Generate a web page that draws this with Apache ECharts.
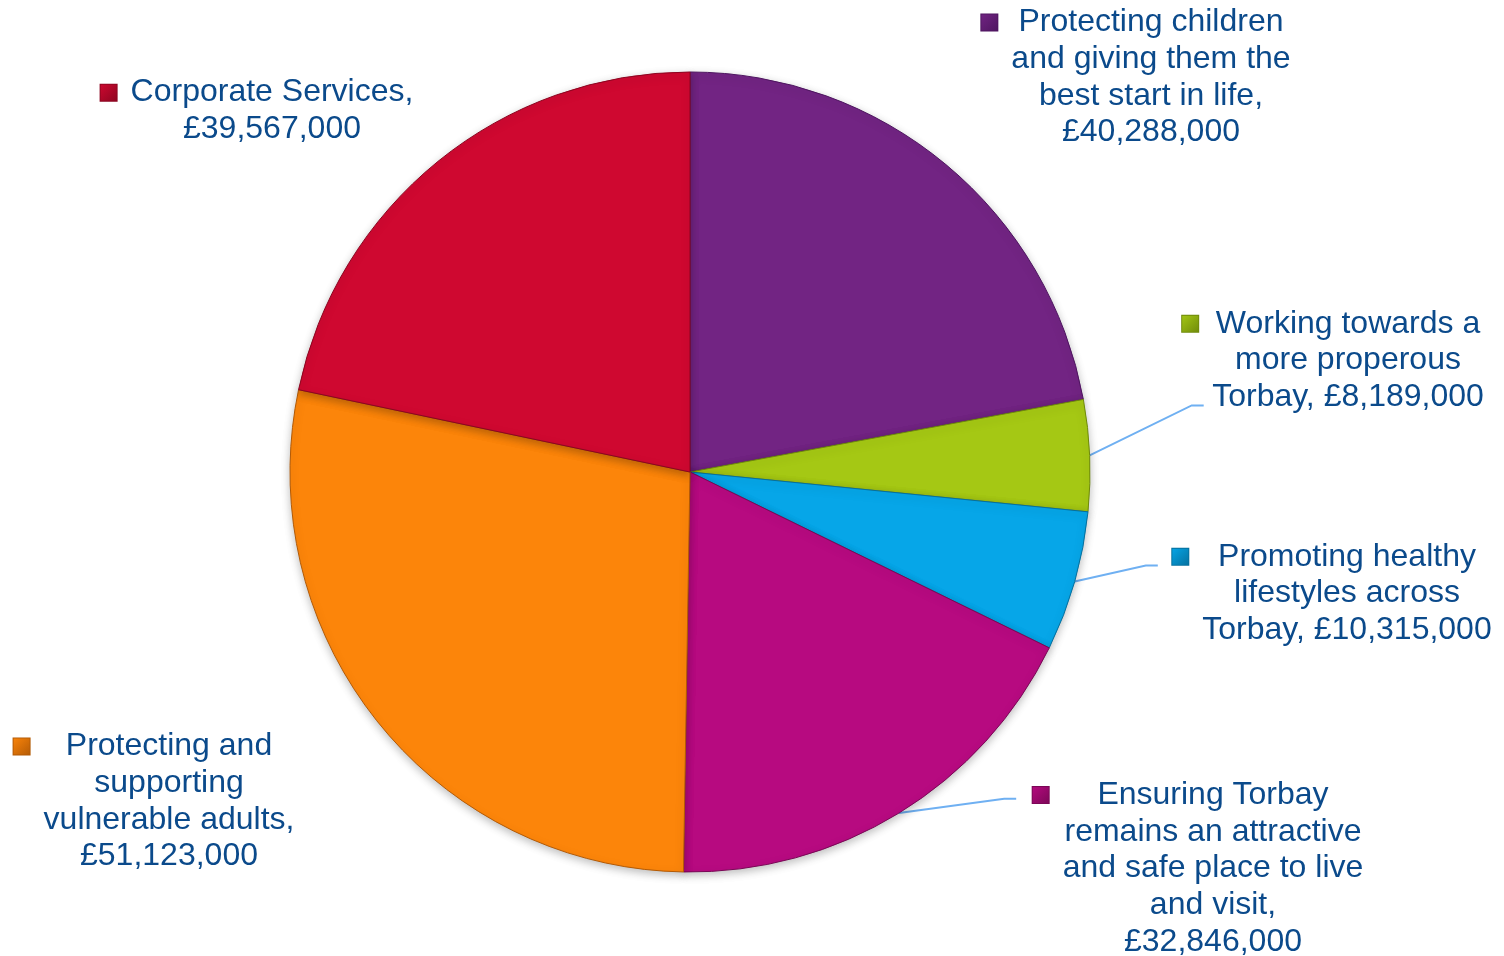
<!DOCTYPE html>
<html>
<head>
<meta charset="utf-8">
<script src="https://cdn.jsdelivr.net/npm/echarts@6/dist/echarts.min.js"></script>
<style>
html,body{margin:0;padding:0;background:#fff;}
#chart{width:1504px;height:956px;}
</style>
</head>
<body>
<div id="chart"></div>
<script>
// ---- data ----
const categories = [
  'Protecting children\nand giving them the\nbest start in life,',
  'Working towards a\nmore properous\nTorbay,',
  'Promoting healthy\nlifestyles across\nTorbay,',
  'Ensuring Torbay\nremains an attractive\nand safe place to live\nand visit,',
  'Protecting and\nsupporting\nvulnerable adults,',
  'Corporate Services,'
];
const values = [40288000, 8189000, 10315000, 32846000, 51123000, 39567000];
const valueLabels = ['£40,288,000', '£8,189,000', '£10,315,000', '£32,846,000', '£51,123,000', '£39,567,000'];
// value label joined on same line as last category line for some items
const joinValueOnLine = [false, true, true, false, false, false];
const colors = ['#722483', '#A5C814', '#06A6E8', '#B70A80', '#FC850A', '#CF0830'];
const borderColors = ['#4E1560', '#6F8A0A', '#05709E', '#7A0756', '#B35A05', '#8C0520'];

// ---- layout (label positions: text-centre x, block-centre y) ----
const labelPos = [
  [1151, 77.5], [1348, 360.5], [1347, 593.5], [1213, 868.5], [169, 801.5], [272, 111]
];
// leader line end relative to block left/top; null = no leader line
const leaderEnd = [null, [22, 100], [-14, 27], [-16, 22], null, null];
const MARK_GAP = 30;
const textColor = '#0B4A8B';

function buildLabel(i) {
  let lines = categories[i].split('\n');
  if (joinValueOnLine[i]) {
    lines[lines.length - 1] = lines[lines.length - 1] + ' ' + valueLabels[i];
  } else {
    lines.push(valueLabels[i]);
  }
  return lines.map(function (l, k) {
    const head = k === 0 ? '{m' + i + '|}{g|}' : '{s|}';
    return head + '{t|' + l + '}';
  }).join('\n');
}

const rich = {
  t: { fontSize: 32, lineHeight: 36.7, color: textColor, fontFamily: '"Liberation Sans", Arial, sans-serif', align: 'center' },
  s: { width: MARK_GAP, height: 16, align: 'left' },
  g: { width: MARK_GAP - 16, height: 16, align: 'left' }
};
colors.forEach(function (c, i) {
  rich['m' + i] = {
    width: 16, height: 16, align: 'left',
    backgroundColor: {
      type: 'linear', x: 0, y: 0, x2: 1, y2: 1,
      colorStops: [{ offset: 0, color: c }, { offset: 1, color: borderColors[i] }]
    },
    borderColor: borderColors[i], borderWidth: 1
  };
});

const data = values.map(function (v, i) {
  return {
    value: v,
    name: categories[i],
    itemStyle: { color: colors[i], borderColor: borderColors[i] },
    label: { formatter: buildLabel(i) },
    labelLine: { show: leaderEnd[i] !== null }
  };
});

const chart = echarts.init(document.getElementById('chart'));
chart.setOption({
  animation: false,
  backgroundColor: '#ffffff',
  series: [{
    type: 'pie',
    center: [690, 472],
    radius: 400,
    startAngle: 90,
    clockwise: true,
    avoidLabelOverlap: false,
    data: data,
    itemStyle: {
      borderWidth: 1,
      shadowBlur: 8,
      shadowOffsetY: 3,
      shadowColor: 'rgba(0,0,0,0.25)'
    },
    label: {
      show: true,
      position: 'outside',
      align: 'center',
      rich: rich,
      fontSize: 32,
      lineHeight: 36.7,
      color: textColor,
      fontFamily: '"Liberation Sans", Arial, sans-serif'
    },
    labelLine: {
      show: true,
      length: 20,
      length2: 10,
      lineStyle: { color: '#6FB0F2', width: 2 }
    },
    labelLayout: function (params) {
      const i = params.dataIndex;
      const w = params.labelRect.width;
      const h = params.labelRect.height;
      const cx = labelPos[i][0] - MARK_GAP / 2;
      const cy = labelPos[i][1];
      const res = { x: cx, y: cy, align: 'center', verticalAlign: 'middle' };
      if (leaderEnd[i] && params.labelLinePoints) {
        const left = cx - w / 2;
        const top = cy - h / 2;
        const ex = left + leaderEnd[i][0];
        const ey = top + leaderEnd[i][1];
        const start = params.labelLinePoints[0];
        res.labelLinePoints = [[start[0], start[1]], [ex - 12, ey], [ex, ey]];
      }
      return res;
    }
  }]
});
</script>
</body>
</html>
